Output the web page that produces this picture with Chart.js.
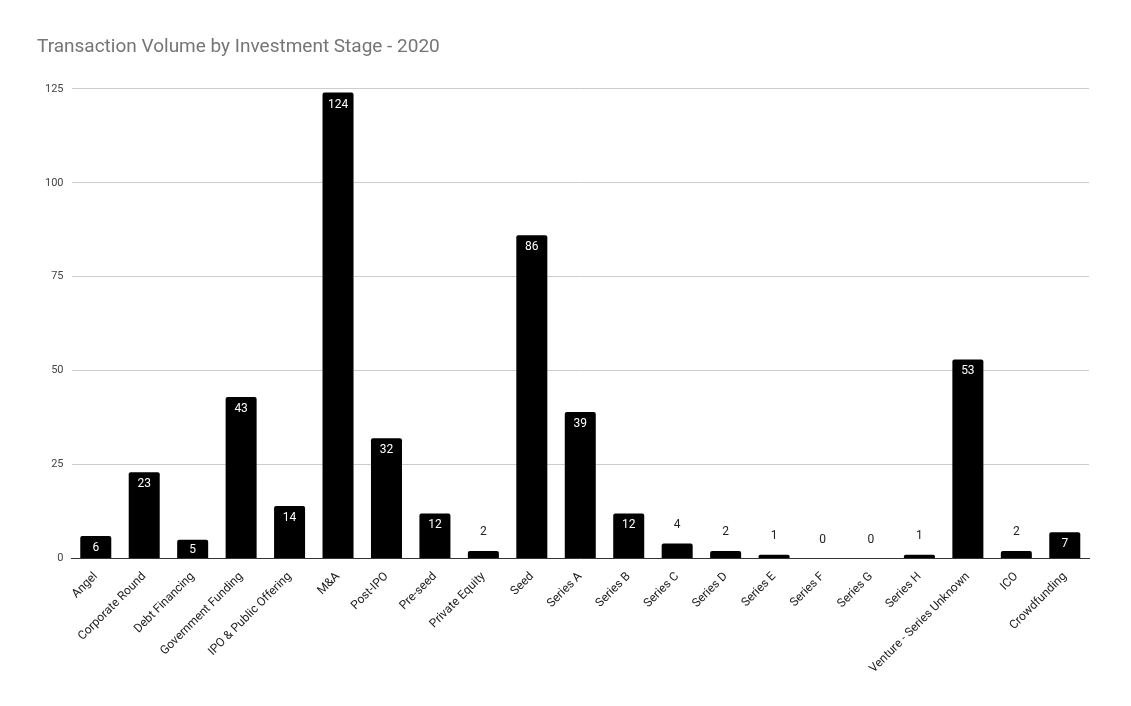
<!DOCTYPE html>
<html>
<head>
<meta charset="utf-8">
<script src="https://cdn.jsdelivr.net/npm/chart.js@4"></script>
<style>
  html, body { margin: 0; padding: 0; background: #fff; }
  #wrap { width: 1131px; height: 706px; position: relative; }
</style>
</head>
<body>
<div id="wrap"><canvas id="chart"></canvas></div>
<script>
// ── Data ───────────────────────────────────────────────
const stages = [
  'Angel', 'Corporate Round', 'Debt Financing', 'Government Funding',
  'IPO & Public Offering', 'M&A', 'Post-IPO', 'Pre-seed', 'Private Equity',
  'Seed', 'Series A', 'Series B', 'Series C', 'Series D', 'Series E',
  'Series F', 'Series G', 'Series H', 'Venture - Series Unknown', 'ICO',
  'Crowdfunding',
];
const volumes = [6, 23, 5, 43, 14, 124, 32, 12, 2, 86, 39, 12, 4, 2, 1, 0, 0, 1, 53, 2, 7];
const yTicks = [0, 25, 50, 75, 100, 125];

// ── Value labels: inside the bar when it is tall enough, above otherwise ──
const valueLabels = {
  id: 'valueLabels',
  afterDatasetsDraw(chart) {
    const { ctx } = chart;
    const meta = chart.getDatasetMeta(0);
    ctx.save();
    ctx.font = '12px Roboto, Arial, sans-serif';
    ctx.textAlign = 'center';
    meta.data.forEach((bar, i) => {
      const v = volumes[i];
      const h = bar.base - bar.y;
      if (h > 16) {
        ctx.fillStyle = '#ffffff';
        ctx.textBaseline = 'middle';
        ctx.fillText(String(v), bar.x, Math.min(bar.y + 12, (bar.y + bar.base) / 2 + 1));
      } else {
        ctx.fillStyle = '#222222';
        ctx.textBaseline = 'bottom';
        ctx.fillText(String(v), bar.x, bar.y - 13);
      }
    });
    ctx.restore();
  },
};

new Chart(document.getElementById('chart'), {
  type: 'bar',
  data: {
    labels: stages,
    datasets: [{
      data: volumes,
      backgroundColor: '#000000',
      borderRadius: 2,
      barPercentage: 0.64,
      categoryPercentage: 1,
    }],
  },
  options: {
    responsive: true,
    maintainAspectRatio: false,
    animation: false,
    layout: { padding: { left: 37, right: 42, top: 12, bottom: 27 } },
    plugins: {
      legend: { display: false },
      tooltip: { enabled: false },
      title: {
        display: true,
        text: 'Transaction Volume by Investment Stage - 2020',
        align: 'start',
        color: '#757575',
        font: { family: 'Roboto, Arial, sans-serif', size: 19, weight: 'normal' },
        padding: { top: 24, bottom: 30 },
      },
    },
    scales: {
      x: {
        grid: { display: false },
        border: { color: '#333333' },
        ticks: {
          color: '#222222',
          font: { family: 'Roboto, Arial, sans-serif', size: 12 },
          maxRotation: 45, minRotation: 45,
          autoSkip: false,
        },
      },
      y: {
        min: 0, max: 125,
        afterBuildTicks: axis => { axis.ticks = yTicks.map(v => ({ value: v })); },
        grid: { color: '#cccccc', drawTicks: false },
        border: { display: false },
        ticks: {
          color: '#444444',
          padding: 8,
          font: { family: 'Roboto, Arial, sans-serif', size: 11 },
        },
      },
    },
  },
  plugins: [valueLabels],
});
</script>
</body>
</html>
